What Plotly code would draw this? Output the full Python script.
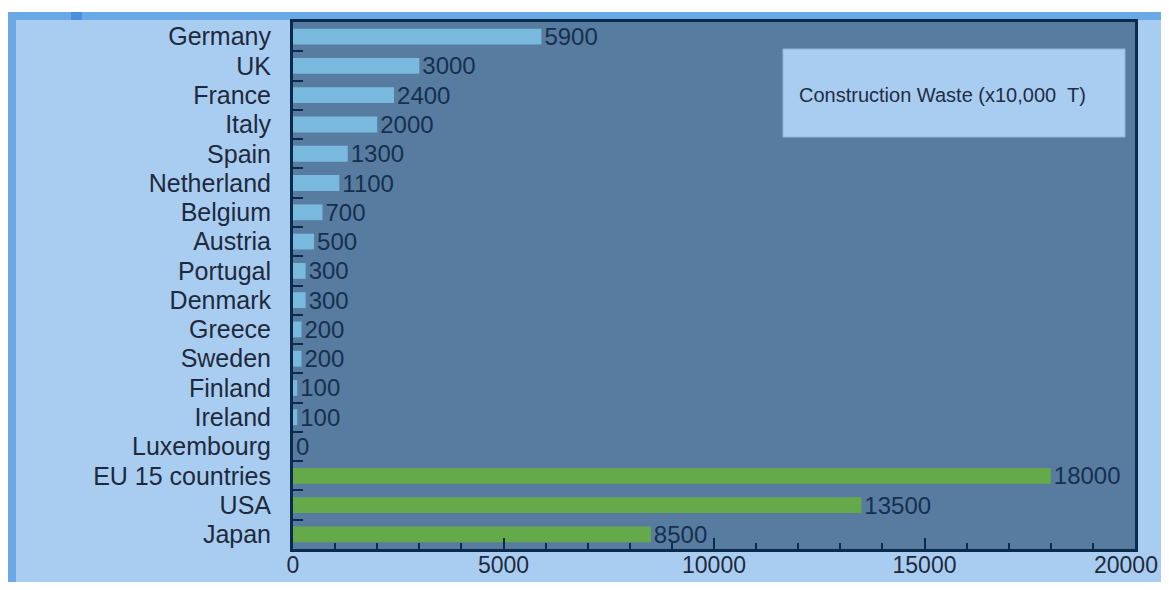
import plotly.graph_objects as go

countries = ["Germany", "UK", "France", "Italy", "Spain", "Netherland", "Belgium",
             "Austria", "Portugal", "Denmark", "Greece", "Sweden", "Finland",
             "Ireland", "Luxembourg"]
country_values = [5900, 3000, 2400, 2000, 1300, 1100, 700, 500, 300, 300, 200, 200, 100, 100, 0]
regions = ["EU 15 countries", "USA", "Japan"]
region_values = [18000, 13500, 8500]
legend_text = "Construction Waste (x10,000  T)"
x_ticks = [0, 5000, 10000, 15000, 20000]

categories = countries + regions
values = country_values + region_values
colors = ["#7ab9de"] * len(countries) + ["#64aa4a"] * len(regions)

OFF = 8  # page body margin
W, H = 1169 - 2 * OFF, 590 - 2 * OFF
ML, MT = 293 - OFF, 22 - OFF
MR, MB = W - (1135 - OFF), H - (549 - OFF)
PW, PH = W - ML - MR, H - MT - MB

def px(x):  # reference pixel -> paper coord
    return (x - OFF - ML) / PW

def py(y):
    return 1 - (y - OFF - MT) / PH

FONT = "Liberation Sans, Arial"
TXT = "#1e2a3c"

fig = go.Figure()
fig.add_trace(go.Bar(
    y=categories, x=values, orientation="h",
    marker=dict(color=colors, line=dict(width=0)),
    text=[str(v) for v in values], textposition="outside", constraintext="none",
    textfont=dict(family=FONT, size=24, color="#15304f"),
    cliponaxis=False, showlegend=False, width=0.54,
))

shapes = [
    dict(type="rect", xref="paper", yref="paper", x0=px(0), x1=px(1200), y0=py(-20), y1=py(12),
         fillcolor="#ffffff", line=dict(width=0), layer="below"),
    dict(type="rect", xref="paper", yref="paper", x0=px(-20), x1=px(8), y0=py(-20), y1=py(600),
         fillcolor="#ffffff", line=dict(width=0), layer="below"),
    dict(type="rect", xref="paper", yref="paper", x0=px(8), x1=px(1200), y0=py(12), y1=py(20),
         fillcolor="#6aa8e6", line=dict(width=0), layer="below"),
    dict(type="rect", xref="paper", yref="paper", x0=px(8), x1=px(16), y0=py(12), y1=py(600),
         fillcolor="#6aa8e6", line=dict(width=0), layer="below"),
    dict(type="rect", xref="paper", yref="paper", x0=px(71), x1=px(82), y0=py(12), y1=py(20),
         fillcolor="#4a90dc", line=dict(width=0), layer="below"),
    dict(type="rect", xref="paper", yref="paper", x0=px(783), x1=px(1125), y0=py(49), y1=py(137),
         fillcolor="#a9cdf1", line=dict(width=1, color="#8fb4d8"), layer="above"),
]

fig.add_annotation(xref="paper", yref="paper", x=px(797), y=py(95), xanchor="left", yanchor="middle",
                   text=legend_text, showarrow=False,
                   font=dict(family=FONT, size=20, color="#1f2d45"))

# last x tick label, pulled inside the page edge as in the original
fig.add_annotation(xref="x", yref="paper", x=x_ticks[-1], y=0, xanchor="right", yanchor="top",
                   xshift=25, yshift=-1, text=str(x_ticks[-1]), showarrow=False,
                   font=dict(family=FONT, size=23, color=TXT))

fig.update_layout(
    width=W, height=H,
    margin=dict(l=ML, r=MR, t=MT, b=MB, pad=0, autoexpand=False),
    paper_bgcolor="#a9cdf1", plot_bgcolor="#587ca0",
    shapes=shapes,
    bargap=0.46,
    font=dict(family=FONT, size=24, color=TXT),
    xaxis=dict(range=[0, 20000], tickvals=x_ticks,
               ticktext=[str(t) for t in x_ticks[:-1]] + [""],
               automargin=False, ticklabeloverflow="allow", ticklabelstandoff=-7,
               showgrid=False, zeroline=False, showline=True, mirror=True,
               linecolor="#0b2b4c", linewidth=3, ticks="inside", ticklen=11,
               tickcolor="#0b2b4c", tickwidth=2,
               minor=dict(dtick=1000, ticks="inside", ticklen=6, tickcolor="#0b2b4c", tickwidth=2),
               tickfont=dict(family=FONT, size=23, color=TXT)),
    yaxis=dict(type="category", categoryorder="array", categoryarray=categories,
               tickmode="array", tickvals=categories, ticktext=categories,
               automargin=False,
               autorange="reversed", showgrid=False, zeroline=False, showline=True, mirror=True,
               linecolor="#0b2b4c", linewidth=3, ticks="inside", tickson="boundaries",
               ticklen=10, tickcolor="#0b2b4c", tickwidth=2, ticklabelstandoff=14,
               tickfont=dict(family=FONT, size=25, color=TXT)),
)

fig.write_html("out.html")
